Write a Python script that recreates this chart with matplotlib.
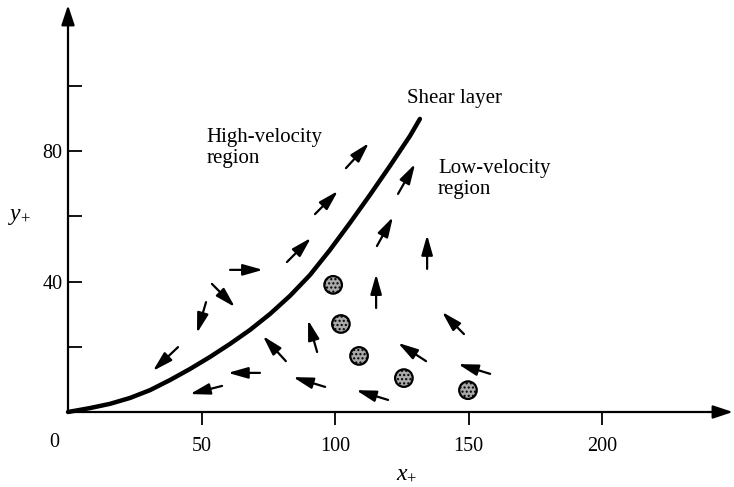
import matplotlib
matplotlib.use("Agg")
import matplotlib.pyplot as plt

plt.rcParams['font.family'] = ['Liberation Serif', 'DejaVu Serif']
plt.rcParams['mathtext.fontset'] = 'custom'
plt.rcParams['mathtext.rm'] = 'Liberation Serif'
plt.rcParams['mathtext.it'] = 'Liberation Serif:italic'

# Shear layer centre line (x+, y+)
shear_x = [0, 8.2, 15.7, 23.2, 30.7, 38.2, 45.7, 53.2, 60.7, 68.2,
           75.7, 83.1, 90.6, 98.1, 105.6, 113.1, 120.6, 128.1, 131.8]
shear_y = [0, 1.2, 2.5, 4.3, 6.7, 9.8, 13.2, 16.9, 20.9, 25.2,
           30.1, 35.6, 42.0, 49.7, 58.0, 66.6, 75.5, 84.7, 89.9]

# Vortex cores in the low-velocity region
vortex_x = [99.3, 102.2, 109.0, 125.8, 149.8]
vortex_y = [39.0, 27.0, 17.2, 10.4, 6.7]

# Velocity arrows: tail (x0, y0) -> head (x1, y1)
arrow_x0 = [60.7, 53.9, 51.7, 41.2, 71.9, 57.7, 82.0, 92.5, 104.1,
            123.6, 115.7, 134.5, 115.4, 148.3, 93.3, 81.6, 134.1, 96.3, 119.9, 158.1]
arrow_y0 = [43.6, 39.3, 33.7, 19.9, 12.0, 8.0, 46.0, 60.7, 74.8,
            66.9, 50.9, 43.9, 31.9, 23.9, 18.4, 15.6, 15.6, 7.7, 3.7, 11.7]
arrow_x1 = [73.0, 62.5, 48.3, 31.8, 59.9, 45.7, 91.0, 101.1, 112.7,
            130.0, 121.7, 134.5, 115.4, 140.1, 89.9, 73.0, 123.6, 84.3, 107.9, 146.1]
arrow_y1 = [43.6, 32.2, 24.2, 12.6, 12.0, 5.5, 53.4, 67.8, 82.5,
            76.1, 59.8, 54.3, 42.3, 30.7, 28.2, 23.3, 21.2, 10.7, 6.7, 14.7]

x_ticks = [50, 100, 150, 200]
x_tick_labels = ['50', '100', '150', '200']
y_ticks = [20, 40, 60, 80, 100]
y_tick_labels = ['', '40', '', '80', '']

W, H = 734, 487
fig = plt.figure(figsize=(W / 100, H / 100), dpi=100)
# origin at pixel (68, 412); 2.67 px per x-unit, 3.26 px per y-unit
ax = fig.add_axes([68 / W, (H - 412) / H, (W - 68) / W, 412 / H])
ax.set_xlim(0, (W - 68) / 2.67)
ax.set_ylim(0, 412 / 3.26)

for s in ax.spines.values():
    s.set_visible(False)

# axis lines with arrowheads
axis_kw = dict(arrowstyle='-|>,head_length=0.6,head_width=0.2', lw=1.6,
               color='black', shrinkA=0, shrinkB=0, mutation_scale=20)
ax.annotate('', xy=(249.0, 0), xytext=(0, 0), arrowprops=axis_kw, annotation_clip=False)
ax.annotate('', xy=(0, 124.8), xytext=(0, 0), arrowprops=axis_kw, annotation_clip=False)

ax.set_xticks(x_ticks)
ax.set_xticklabels(x_tick_labels)
ax.set_yticks(y_ticks)
ax.set_yticklabels(y_tick_labels)
ax.tick_params(axis='x', direction='out', length=9, width=1.3, pad=9, labelsize=14.5)
ax.tick_params(axis='y', direction='in', length=10, width=1.3, pad=4, labelsize=14.5)
ax.text(-5.2, -9.5, '0', fontsize=14.5, ha='center', va='center')

ax.text(127, -19.0, r'$x_{+}$', fontsize=17, ha='center', va='center')
ax.text(-18, 60.1, r'$y_{+}$', fontsize=17, ha='center', va='center')

# shear layer
ax.plot(shear_x, shear_y, color='black', lw=3.2, solid_capstyle='round',
        solid_joinstyle='round', clip_on=False)

# velocity arrows
for x0, y0, x1, y1 in zip(arrow_x0, arrow_y0, arrow_x1, arrow_y1):
    ax.annotate('', xy=(x1, y1), xytext=(x0, y0),
                arrowprops=dict(arrowstyle='-|>,head_length=0.6,head_width=0.17',
                                lw=1.6, color='black', shrinkA=0, shrinkB=0,
                                mutation_scale=20))

# vortex cores
ax.scatter(vortex_x, vortex_y, s=160, facecolor='#a9a9a9', edgecolor='black',
           linewidths=1.6, hatch='....', zorder=3)

ax.text(127, 96.3, 'Shear layer', fontsize=15, ha='left', va='center')
ax.text(52, 87.1, 'High-velocity\nregion', fontsize=15, ha='left', va='top',
        linespacing=1.12)
ax.text(138.6, 77.6, 'Low-velocity\nregion', fontsize=15, ha='left', va='top',
        linespacing=1.12)

fig.savefig('out.png', dpi=100)
